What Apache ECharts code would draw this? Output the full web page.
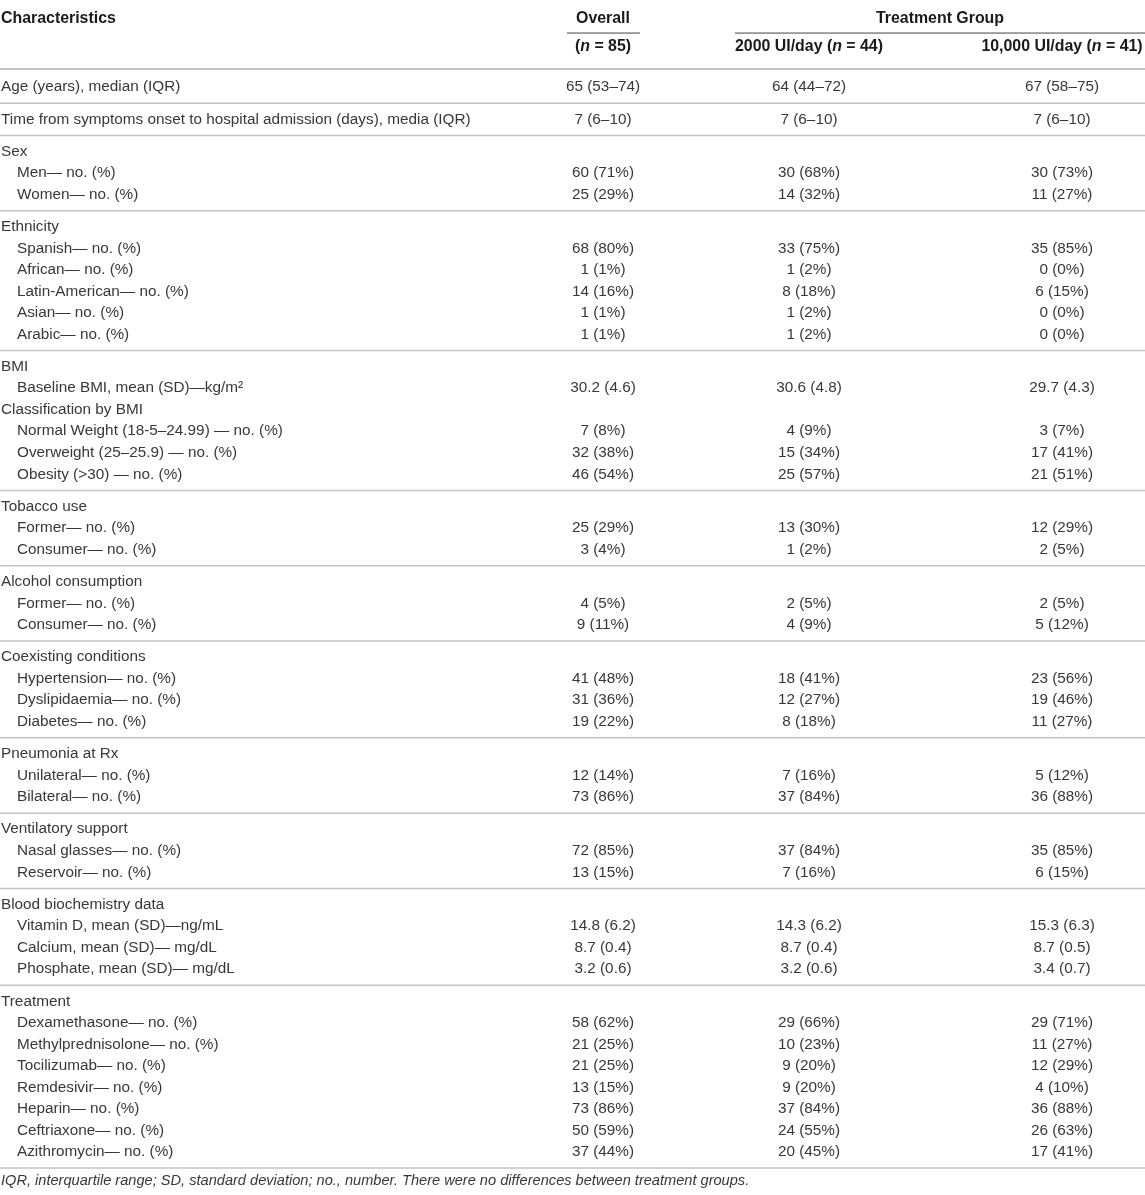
<!DOCTYPE html>
<html>
<head>
<meta charset="utf-8">
<script src="https://cdn.jsdelivr.net/npm/echarts@6/dist/echarts.min.js"></script>
<style>
  html, body { margin: 0; padding: 0; background: #fff; }
  #main { width: 1145px; height: 1195px; }
</style>
</head>
<body>
<div id="main"></div>
<script>
// table content
var rowLabels = [
  'Age (years), median (IQR)',
  'Time from symptoms onset to hospital admission (days), media (IQR)',
  'Sex', 'Men\u2014 no. (%)', 'Women\u2014 no. (%)',
  'Ethnicity', 'Spanish\u2014 no. (%)', 'African\u2014 no. (%)', 'Latin-American\u2014 no. (%)', 'Asian\u2014 no. (%)', 'Arabic\u2014 no. (%)',
  'BMI', 'Baseline BMI, mean (SD)\u2014kg/m\u00b2', 'Classification by BMI',
  'Normal Weight (18-5\u201324.99) \u2014 no. (%)', 'Overweight (25\u201325.9) \u2014 no. (%)', 'Obesity (>30) \u2014 no. (%)',
  'Tobacco use', 'Former\u2014 no. (%)', 'Consumer\u2014 no. (%)',
  'Alcohol consumption', 'Former\u2014 no. (%)', 'Consumer\u2014 no. (%)',
  'Coexisting conditions', 'Hypertension\u2014 no. (%)', 'Dyslipidaemia\u2014 no. (%)', 'Diabetes\u2014 no. (%)',
  'Pneumonia at Rx', 'Unilateral\u2014 no. (%)', 'Bilateral\u2014 no. (%)',
  'Ventilatory support', 'Nasal glasses\u2014 no. (%)', 'Reservoir\u2014 no. (%)',
  'Blood biochemistry data', 'Vitamin D, mean (SD)\u2014ng/mL', 'Calcium, mean (SD)\u2014 mg/dL', 'Phosphate, mean (SD)\u2014 mg/dL',
  'Treatment', 'Dexamethasone\u2014 no. (%)', 'Methylprednisolone\u2014 no. (%)', 'Tocilizumab\u2014 no. (%)',
  'Remdesivir\u2014 no. (%)', 'Heparin\u2014 no. (%)', 'Ceftriaxone\u2014 no. (%)', 'Azithromycin\u2014 no. (%)'
];

var overall = [
  '65 (53\u201374)', '7 (6\u201310)',
  null, '60 (71%)', '25 (29%)',
  null, '68 (80%)', '1 (1%)', '14 (16%)', '1 (1%)', '1 (1%)',
  null, '30.2 (4.6)', null, '7 (8%)', '32 (38%)', '46 (54%)',
  null, '25 (29%)', '3 (4%)',
  null, '4 (5%)', '9 (11%)',
  null, '41 (48%)', '31 (36%)', '19 (22%)',
  null, '12 (14%)', '73 (86%)',
  null, '72 (85%)', '13 (15%)',
  null, '14.8 (6.2)', '8.7 (0.4)', '3.2 (0.6)',
  null, '58 (62%)', '21 (25%)', '21 (25%)', '13 (15%)', '73 (86%)', '50 (59%)', '37 (44%)'
];

var lowDose = [
  '64 (44\u201372)', '7 (6\u201310)',
  null, '30 (68%)', '14 (32%)',
  null, '33 (75%)', '1 (2%)', '8 (18%)', '1 (2%)', '1 (2%)',
  null, '30.6 (4.8)', null, '4 (9%)', '15 (34%)', '25 (57%)',
  null, '13 (30%)', '1 (2%)',
  null, '2 (5%)', '4 (9%)',
  null, '18 (41%)', '12 (27%)', '8 (18%)',
  null, '7 (16%)', '37 (84%)',
  null, '37 (84%)', '7 (16%)',
  null, '14.3 (6.2)', '8.7 (0.4)', '3.2 (0.6)',
  null, '29 (66%)', '10 (23%)', '9 (20%)', '9 (20%)', '37 (84%)', '24 (55%)', '20 (45%)'
];

var highDose = [
  '67 (58\u201375)', '7 (6\u201310)',
  null, '30 (73%)', '11 (27%)',
  null, '35 (85%)', '0 (0%)', '6 (15%)', '0 (0%)', '0 (0%)',
  null, '29.7 (4.3)', null, '3 (7%)', '17 (41%)', '21 (51%)',
  null, '12 (29%)', '2 (5%)',
  null, '2 (5%)', '5 (12%)',
  null, '23 (56%)', '19 (46%)', '11 (27%)',
  null, '5 (12%)', '36 (88%)',
  null, '35 (85%)', '6 (15%)',
  null, '15.3 (6.3)', '8.7 (0.5)', '3.4 (0.7)',
  null, '29 (71%)', '11 (27%)', '12 (29%)', '4 (10%)', '36 (88%)', '26 (63%)', '17 (41%)'
];

var sectionStarts = [
  'Time from symptoms onset to hospital admission (days), media (IQR)',
  'Sex', 'Ethnicity', 'BMI', 'Tobacco use', 'Alcohol consumption', 'Coexisting conditions',
  'Pneumonia at Rx', 'Ventilatory support', 'Blood biochemistry data', 'Treatment'
];

var footnote = 'IQR, interquartile range; SD, standard deviation; no., number. There were no differences between treatment groups.';

// layout
var FONT = 'Liberation Sans, Arial, Helvetica, sans-serif';
var SIZE = 15.3, HEAD_SIZE = 15.9;
var TEXT = '#383838';
var HEAD = '#1a1a1a';
var RULE = '#c4c4c4';
var LABEL_X = 1, INDENT = 16;
var COL_X = [603, 809, 1062];

var cells = [];
var rules = [];

function bodyCell(x, y, text, align) {
  cells.push({ x: x, y: y, text: text, align: align, fontSize: SIZE, fontWeight: 'normal', fontStyle: 'normal', color: TEXT });
}
function headCell(x, y, text, align, rich) {
  cells.push({ x: x, y: y, text: text, align: align, fontSize: HEAD_SIZE, fontWeight: 'bold', fontStyle: 'normal', color: HEAD, rich: rich });
}

var italicN = {
  n: { fontStyle: 'italic', fontWeight: 'bold', fontSize: HEAD_SIZE, fontFamily: FONT, fill: HEAD }
};

headCell(LABEL_X, -3.16, 'Characteristics', 'left');
headCell(COL_X[0], -3.16, 'Overall', 'center');
headCell(940, -3.16, 'Treatment Group', 'center');
headCell(COL_X[0], -1.9, '({n|n} = 85)', 'center', italicN);
headCell(COL_X[1], -1.9, '2000 UI/day ({n|n} = 44)', 'center', italicN);
headCell(COL_X[2], -1.9, '10,000 UI/day ({n|n} = 41)', 'center', italicN);
rules.push({ y: -2.51, x0: 567, x1: 640, color: '#444444', width: 1 });
rules.push({ y: -2.51, x0: 735, x1: 1145, color: '#444444', width: 1 });
rules.push({ y: -0.84, x0: 0, x1: 1145, color: RULE, width: 2 });

var u = 0;
rowLabels.forEach(function (label, i) {
  var starts = sectionStarts.indexOf(label) >= 0;
  if (i > 0) {
    if (starts) {
      u += 1.5;
      rules.push({ y: u - 0.75, x0: 0, x1: 1145, color: RULE, width: 1.5 });
    } else {
      u += 1;
    }
  }
  var hasValue = overall[i] !== null;
  var indented = hasValue && !starts && i > 0;
  bodyCell(indented ? LABEL_X + INDENT : LABEL_X, u, label, 'left');
  [overall, lowDose, highDose].forEach(function (col, k) {
    if (col[i] !== null) bodyCell(COL_X[k], u, col[i], 'center');
  });
});
rules.push({ y: u + 0.74, x0: 0, x1: 1145, color: RULE, width: 1.5 });
cells.push({ x: LABEL_X, y: u + 1.35, text: footnote, align: 'left', fontSize: 14.6, fontWeight: 'normal', fontStyle: 'italic', color: TEXT });

var myChart = echarts.init(document.getElementById('main'));

option = {
  animation: false,
  grid: { left: 0, right: 0, top: 1, bottom: 0 },
  xAxis: { type: 'value', min: 0, max: 1145, show: false },
  yAxis: { type: 'value', min: -4, max: 51.5, inverse: true, show: false },
  series: [
    {
      type: 'custom',
      data: rules.map(function (r) { return [r.x0, r.y]; }),
      renderItem: function (params, api) {
        var r = rules[params.dataIndex];
        var a = api.coord([r.x0, r.y]);
        var b = api.coord([r.x1, r.y]);
        return {
          type: 'line',
          silent: true,
          shape: { x1: a[0], y1: a[1], x2: b[0], y2: b[1] },
          style: { stroke: r.color, lineWidth: r.width }
        };
      }
    },
    {
      type: 'custom',
      data: cells.map(function (c) { return [c.x, c.y]; }),
      renderItem: function (params, api) {
        var c = cells[params.dataIndex];
        var p = api.coord([c.x, c.y]);
        return {
          type: 'text',
          silent: true,
          x: p[0],
          y: p[1],
          style: {
            text: c.text,
            rich: c.rich,
            fill: c.color,
            fontSize: c.fontSize,
            fontFamily: FONT,
            fontWeight: c.fontWeight,
            fontStyle: c.fontStyle,
            textAlign: c.align,
            textVerticalAlign: 'middle'
          }
        };
      }
    }
  ]
};

myChart.setOption(option);
onresize = myChart.resize;
</script>
</body>
</html>
